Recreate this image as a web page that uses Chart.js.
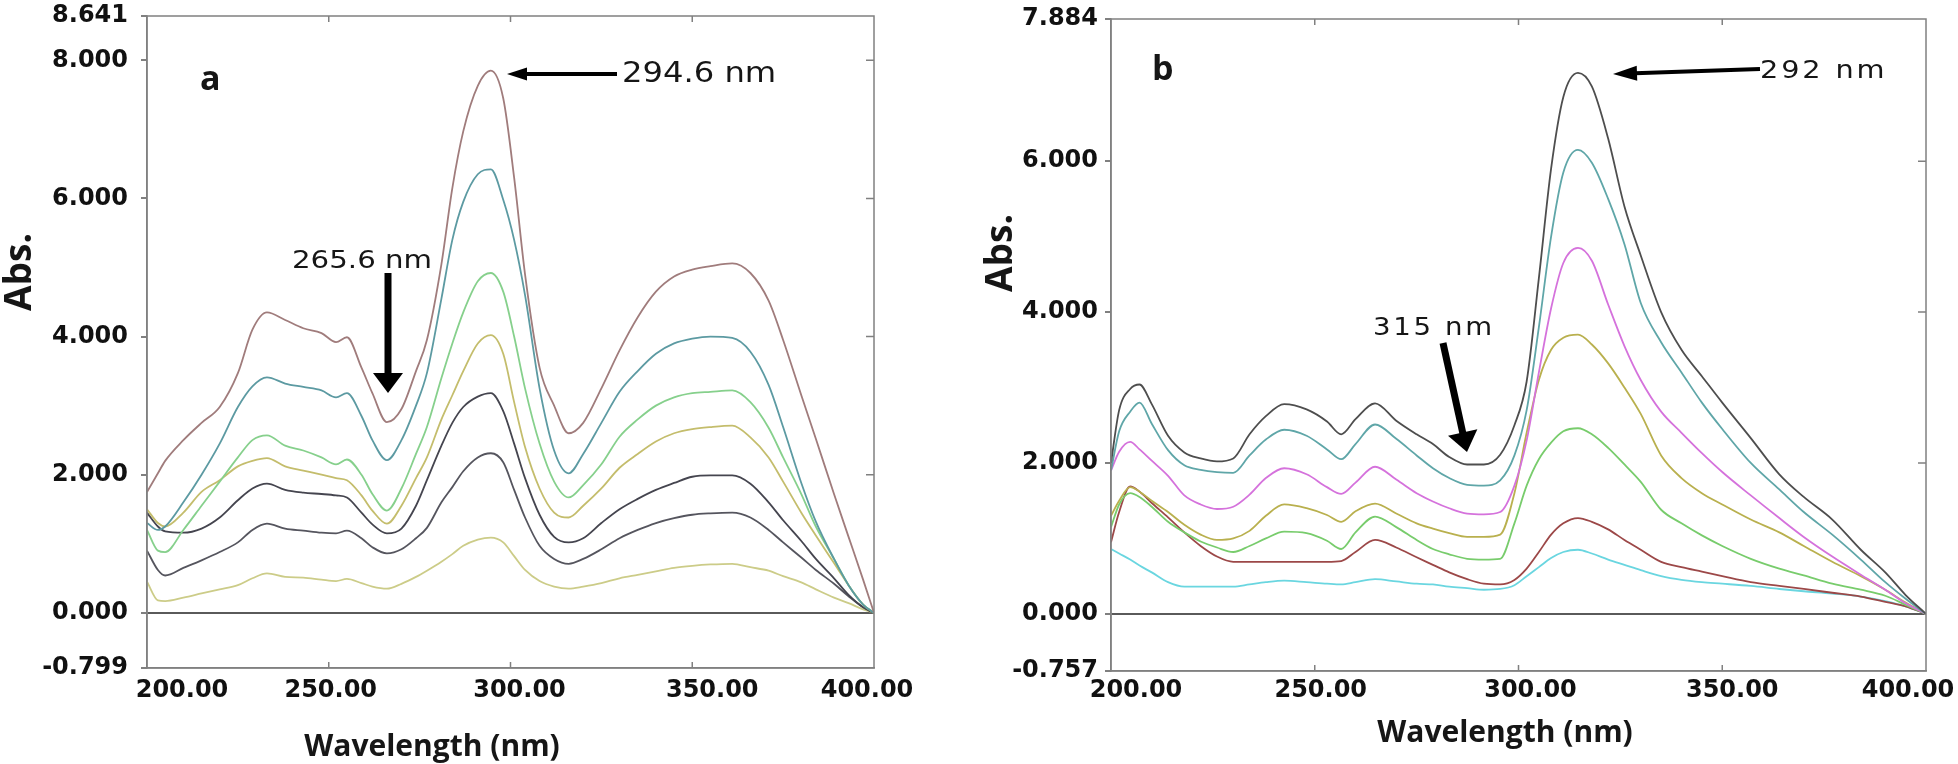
<!DOCTYPE html>
<html><head><meta charset="utf-8">
<script src="https://cdn.jsdelivr.net/npm/chart.js@4.4.1/dist/chart.umd.min.js"></script>
<style>
html,body{margin:0;padding:0;background:#fff;}
#wrap{position:relative;width:1958px;height:764px;overflow:hidden;background:#fff;}
canvas{position:absolute;top:0;}
#ca{left:0;} #cb{left:980px;}
</style></head><body>
<div id="wrap"><canvas id="ca" width="980" height="764"></canvas><canvas id="cb" width="978" height="764"></canvas></div>
<script>
// ---------- Panel a data ----------
const wavelengthA = [200,203,205,210,215,220,225,229,233,238,243,248,252,255,259,262,266,270,274,277,281,284,287,291,294.6,298,301,304,308,312,316,320,325,330,335,340,345,350,355,361,366,371,375,380,384,389,393,397,400];
const absA1 = [1.75,2.02,2.2,2.5,2.75, 2.98,3.47,4.1,4.35,4.24, 4.12,4.05,3.92,3.99,3.55, 3.18,2.76,2.95,3.5,3.95, 5.05,6.15,6.97,7.63,7.85, 7.45,6.3,4.9,3.55,3.0, 2.6,2.75,3.25,3.8,4.28, 4.65,4.87,4.97,5.02,5.06, 4.92,4.52,3.95,3.15,2.52, 1.72,1.1,0.48,0];
const absA2 = [1.3,1.2,1.25,1.6,2.0, 2.45,2.98,3.28,3.41,3.32, 3.27,3.22,3.12,3.18,2.85, 2.5,2.21,2.5,3.0,3.47, 4.55,5.4,5.95,6.35,6.42, 5.98,5.4,4.6,3.25,2.35, 2.02,2.3,2.75,3.2,3.5, 3.75,3.9,3.97,4.0,3.98, 3.78,3.3,2.69,1.88,1.32, 0.78,0.4,0.12,0];
const absA3 = [1.2,0.9,0.88,1.2,1.55, 1.9,2.25,2.5,2.57,2.42, 2.35,2.25,2.15,2.22,2.0, 1.72,1.48,1.8,2.3,2.69, 3.4,3.9,4.35,4.8,4.92, 4.65,4.0,3.25,2.45,1.9, 1.67,1.85,2.15,2.55,2.8, 3.0,3.12,3.18,3.2,3.22, 3.05,2.68,2.25,1.72,1.25, 0.78,0.4,0.12,0];
const absA4 = [1.5,1.3,1.25,1.45,1.75, 1.92,2.12,2.2,2.24,2.12, 2.06,2.0,1.95,1.92,1.7, 1.48,1.29,1.55,1.95,2.25, 2.8,3.15,3.5,3.9,4.02, 3.75,3.05,2.4,1.8,1.45, 1.38,1.55,1.8,2.1,2.3, 2.48,2.6,2.66,2.69,2.71, 2.54,2.25,1.9,1.45,1.12, 0.72,0.4,0.12,0];
const absA5 = [1.45,1.25,1.18,1.16,1.22, 1.38,1.63,1.8,1.87,1.78, 1.74,1.72,1.7,1.67,1.45, 1.28,1.15,1.22,1.55,1.92, 2.42,2.75,2.98,3.13,3.18, 2.92,2.45,1.95,1.42,1.1, 1.02,1.08,1.3,1.5,1.65, 1.78,1.88,1.97,1.99,1.99, 1.87,1.6,1.34,1.04,0.78, 0.5,0.26,0.08,0];
const absA6 = [0.9,0.62,0.54,0.65,0.76, 0.88,1.02,1.2,1.29,1.22, 1.19,1.16,1.15,1.19,1.08, 0.95,0.86,0.92,1.08,1.23, 1.6,1.82,2.05,2.25,2.31, 2.18,1.78,1.38,0.97,0.78, 0.71,0.78,0.92,1.08,1.2, 1.3,1.37,1.42,1.44,1.45, 1.38,1.2,1.02,0.8,0.62, 0.42,0.24,0.08,0];
const absA7 = [0.45,0.18,0.17,0.22,0.28, 0.34,0.4,0.5,0.57,0.52, 0.51,0.48,0.46,0.49,0.43, 0.38,0.35,0.42,0.52,0.61, 0.74,0.85,0.97,1.06,1.09, 1.02,0.82,0.62,0.46,0.38, 0.35,0.38,0.43,0.5,0.55, 0.6,0.65,0.68,0.7,0.71, 0.66,0.61,0.53,0.44,0.34, 0.22,0.14,0.05,0];

// ---------- Panel b data ----------
const wavelengthB = [200,202,204.7,207,210,214,218,222,226,230,234,238,242.5,248,253,256.5,260,264.8,270,275,279,283,287.4,291.5,295.5,299,302,305,308,311,314.6,318,322,326,330,335,340,345,350,357,364,370,377,384,390,395,400];
const absB1 = [2.0,2.7,2.98,3.04,2.78, 2.36,2.14,2.06,2.02,2.06, 2.38,2.62,2.78,2.71,2.55, 2.38,2.58,2.79,2.56,2.38, 2.25,2.08,1.98,1.98,2.11, 2.5,3.08,4.45,5.9,6.85, 7.17,6.99,6.3,5.4,4.75, 4.0,3.5,3.15,2.8,2.33, 1.85,1.55,1.25,0.85,0.55, 0.25,0];
const absB2 = [1.9,2.42,2.68,2.8,2.52, 2.17,1.97,1.91,1.88,1.87, 2.1,2.31,2.44,2.36,2.18, 2.05,2.25,2.51,2.32,2.1, 1.93,1.8,1.71,1.7,1.77, 2.1,2.7,3.8,5.0,5.85, 6.15,5.98,5.5,4.9,4.12, 3.6,3.2,2.8,2.45,2.0, 1.65,1.35,1.05,0.72,0.42, 0.2,0];
const absB3 = [1.9,2.15,2.28,2.18,2.03, 1.83,1.57,1.45,1.39,1.42, 1.58,1.8,1.93,1.85,1.68, 1.59,1.74,1.95,1.78,1.6, 1.49,1.4,1.33,1.32,1.35, 1.7,2.3,3.2,4.05,4.65, 4.85,4.68,4.1,3.55,3.1, 2.68,2.4,2.13,1.88,1.57, 1.27,1.02,0.76,0.52,0.32, 0.14,0];
const absB4 = [1.3,1.5,1.68,1.62,1.5, 1.35,1.18,1.05,0.98,1.0, 1.1,1.3,1.45,1.4,1.31, 1.22,1.36,1.46,1.33,1.2, 1.13,1.07,1.02,1.02,1.05, 1.6,2.4,3.1,3.5,3.66, 3.7,3.57,3.32,3.0,2.65, 2.1,1.8,1.6,1.45,1.25, 1.08,0.9,0.69,0.5,0.32, 0.15,0];
const absB5 = [1.15,1.45,1.6,1.55,1.42, 1.22,1.08,0.96,0.88,0.82, 0.9,1.0,1.09,1.07,0.97, 0.86,1.08,1.29,1.15,0.98, 0.86,0.79,0.73,0.72,0.73, 1.2,1.7,2.05,2.27,2.42, 2.46,2.38,2.2,1.98,1.75, 1.38,1.2,1.04,0.9,0.73, 0.6,0.51,0.4,0.32,0.24, 0.12,0];
const absB6 = [0.95,1.35,1.69,1.62,1.47, 1.28,1.08,0.9,0.76,0.69, 0.69,0.69,0.69,0.69,0.69, 0.7,0.82,0.98,0.88,0.75, 0.65,0.55,0.46,0.4,0.39, 0.45,0.6,0.82,1.05,1.2, 1.27,1.22,1.12,0.98,0.85, 0.69,0.62,0.56,0.5,0.42, 0.37,0.33,0.28,0.23,0.16, 0.1,0];
const absB7 = [0.86,0.8,0.72,0.64,0.55, 0.42,0.36,0.36,0.36,0.36, 0.39,0.42,0.44,0.42,0.4, 0.39,0.42,0.46,0.43,0.4, 0.39,0.36,0.34,0.32,0.33, 0.38,0.5,0.62,0.74,0.82, 0.85,0.8,0.72,0.65,0.58, 0.5,0.45,0.42,0.4,0.37, 0.33,0.3,0.27,0.23,0.17, 0.1,0];

// ---------- tick labels ----------
const xTickValues = [200, 250, 300, 350, 400];
const yTicksA = [-0.799, 0, 2, 4, 6, 8, 8.641];
const yTicksB = [-0.757, 0, 2, 4, 6, 7.884];

const colorsA = ['#a07c7c', '#5c9aa2', '#86d08c', '#c4bd6c', '#45454f', '#55555e', '#cccc88'];
const colorsB = ['#4e4e4e', '#5fa6a8', '#d572dc', '#b9b04e', '#78cc6c', '#9c4848', '#6ad6e0'];

const TICKFONT = {family: "'DejaVu Sans', Verdana, sans-serif", weight: 'bold', size: 24};
const TICKFONT_CSS = "bold 24px 'DejaVu Sans', Verdana, sans-serif";
const TITLEFONT = "'Open Sans', 'DejaVu Sans', sans-serif";

function pts(xs, ys) { return xs.map((x, i) => ({x: x, y: ys[i]})); }

function drawText(ctx, s, x, y, font, spacing, align, rot, sx, color, baseline) {
  ctx.save();
  ctx.font = font;
  ctx.fillStyle = color || '#161616';
  try { ctx.letterSpacing = (spacing || 0) + 'px'; } catch (e) {}
  ctx.textAlign = align || 'left';
  ctx.textBaseline = baseline || (rot ? 'middle' : 'alphabetic');
  ctx.translate(x, y);
  if (rot) ctx.rotate(rot);
  if (sx) ctx.scale(sx, 1);
  ctx.fillText(s, 0, 0);
  ctx.restore();
}

function drawArrow(ctx, x1, y1, x2, y2, lw, headLen, headW) {
  const dx = x2 - x1, dy = y2 - y1, L = Math.hypot(dx, dy);
  const ux = dx / L, uy = dy / L, nx = -uy, ny = ux;
  const bx = x2 - ux * headLen, by = y2 - uy * headLen;
  ctx.save();
  ctx.strokeStyle = '#000'; ctx.fillStyle = '#000';
  ctx.lineWidth = lw; ctx.lineCap = 'butt';
  ctx.beginPath(); ctx.moveTo(x1, y1); ctx.lineTo(bx + ux * 2, by + uy * 2); ctx.stroke();
  ctx.beginPath();
  ctx.moveTo(x2, y2);
  ctx.lineTo(bx + nx * headW / 2, by + ny * headW / 2);
  ctx.lineTo(bx - nx * headW / 2, by - ny * headW / 2);
  ctx.closePath(); ctx.fill();
  ctx.restore();
}

function frame(chart, yInner) {
  const ctx = chart.ctx, ca = chart.chartArea, x = chart.scales.x, y = chart.scales.y;
  ctx.save();
  ctx.strokeStyle = '#808080'; ctx.lineWidth = 1.5;
  ctx.strokeRect(ca.left, ca.top, ca.right - ca.left, ca.bottom - ca.top);
  ctx.beginPath();
  xTickValues.slice(1, -1).forEach(v => {
    const px = x.getPixelForValue(v);
    ctx.moveTo(px, ca.top); ctx.lineTo(px, ca.top + 6);
    ctx.moveTo(px, ca.bottom); ctx.lineTo(px, ca.bottom - 6);
  });
  yInner.forEach(v => {
    const py = y.getPixelForValue(v);
    ctx.moveTo(ca.right, py); ctx.lineTo(ca.right - 8, py);
  });
  ctx.stroke();
  ctx.restore();
}

// x tick labels, placed from the x scale with small per-label nudges as in the original
function xLabels(chart, nudges, yCenter) {
  const x = chart.scales.x;
  xTickValues.forEach((v, i) => {
    drawText(chart.ctx, v.toFixed(2), x.getPixelForValue(v) + nudges[i], yCenter, TICKFONT_CSS, 0, 'center', 0, 0, '#111', 'middle');
  });
}

function makeChart(id, xs, series, colors, yMin, yMax, yTicks, area, yPad, decorate) {
  const cv = document.getElementById(id);
  const W = cv.width, H = cv.height;
  return new Chart(cv, {
    type: 'line',
    data: {
      datasets: series.map((s, i) => ({
        data: pts(xs, s), borderColor: colors[i], borderWidth: 1.8,
        pointRadius: 0, fill: false, cubicInterpolationMode: 'monotone'
      }))
    },
    options: {
      responsive: false, animation: false, devicePixelRatio: 1,
      layout: {padding: {top: area.top, right: W - area.right, left: 0, bottom: 0}},
      plugins: {legend: {display: false}, tooltip: {enabled: false}},
      scales: {
        x: {
          type: 'linear', min: 200, max: 400,
          afterBuildTicks: s => { s.ticks = xTickValues.map(v => ({value: v})); },
          afterFit: s => { s.height = H - area.bottom; s.paddingLeft = 0; s.paddingRight = 0; },
          ticks: {display: false},
          grid: {drawOnChartArea: false, drawTicks: false},
          border: {display: true, color: '#808080', width: 1.5}
        },
        y: {
          type: 'linear', min: yMin, max: yMax,
          afterBuildTicks: s => { s.ticks = yTicks.map(v => ({value: v})); },
          afterFit: s => { s.width = area.left; s.paddingTop = 0; s.paddingBottom = 0; },
          ticks: {callback: v => Number(v).toFixed(3), font: TICKFONT, color: '#111', padding: yPad, autoSkip: false},
          grid: {drawOnChartArea: true, drawTicks: true, tickLength: 6, tickColor: '#808080',
                 color: c => (c.tick && c.tick.value === 0) ? '#5a5a5a' : 'rgba(0,0,0,0)', lineWidth: 2},
          border: {display: true, color: '#808080', width: 1.5}
        }
      }
    },
    plugins: [{id: 'deco', afterDraw: chart => decorate(chart)}]
  });
}

makeChart('ca', wavelengthA, [absA1, absA2, absA3, absA4, absA5, absA6, absA7], colorsA,
  -0.799, 8.641, yTicksA, {left: 147, top: 16, right: 874, bottom: 668}, 13,
  chart => {
    const ctx = chart.ctx;
    frame(chart, [2, 4, 6, 8]);
    xLabels(chart, [35, 2, 9, 20, -7], 691);
    drawText(ctx, 'a', 200, 90, 'bold 34px ' + TITLEFONT, 0);
    drawText(ctx, '294.6 nm', 622, 82, '28px "DejaVu Sans", sans-serif', 0, 'left', 0, 1.15);
    drawArrow(ctx, 617, 74, 507, 74, 4, 20, 13);
    drawText(ctx, '265.6 nm', 292, 268, '25px "DejaVu Sans", sans-serif', 0, 'left', 0, 1.17);
    drawArrow(ctx, 388, 273, 388, 393, 7, 20, 30);
    drawText(ctx, 'Abs.', 20, 272, 'bold 37px ' + TITLEFONT, 0, 'center', -Math.PI / 2);
    drawText(ctx, 'Wavelength (nm)', 432, 756, 'bold 30px ' + TITLEFONT, 0, 'center');
  });

makeChart('cb', wavelengthB, [absB1, absB2, absB3, absB4, absB5, absB6, absB7], colorsB,
  -0.757, 7.884, yTicksB, {left: 131, top: 19, right: 946, bottom: 671}, 7,
  chart => {
    const ctx = chart.ctx;
    frame(chart, [2, 4, 6]);
    xLabels(chart, [25, 6, 12, 10, -18], 691);
    drawText(ctx, 'b', 172, 80, 'bold 34px ' + TITLEFONT, 0);
    drawText(ctx, '292 nm', 780, 78, '25px "DejaVu Sans", sans-serif', 2.5, 'left', 0, 1.15);
    drawArrow(ctx, 780, 69, 633, 74, 4, 24, 15);
    drawText(ctx, '315 nm', 393, 335, '24px "DejaVu Sans", sans-serif', 2.3, 'left', 0, 1.15);
    drawArrow(ctx, 463, 343, 487, 452, 7, 20, 30);
    drawText(ctx, 'Abs.', 21, 253, 'bold 37px ' + TITLEFONT, 0, 'center', -Math.PI / 2);
    drawText(ctx, 'Wavelength (nm)', 525, 742, 'bold 30px ' + TITLEFONT, 0, 'center');
  });
</script></body></html>
